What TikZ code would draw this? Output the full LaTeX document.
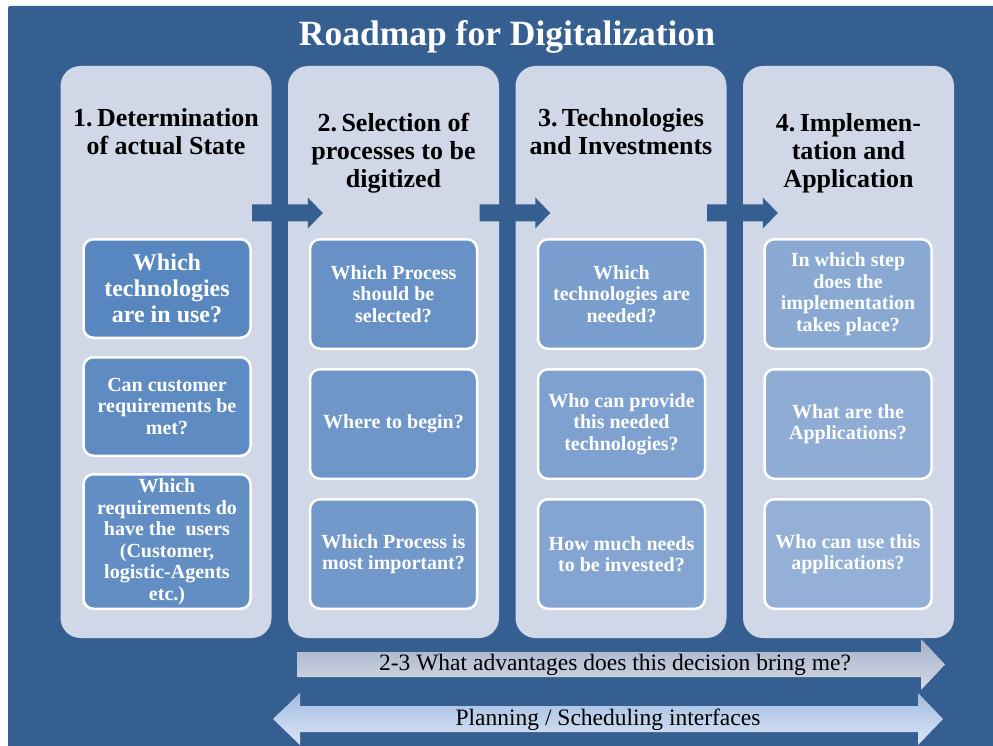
\documentclass[tikz,border=0pt]{standalone}
\usepackage{fontspec}
\setmainfont{Liberation Serif}
\usetikzlibrary{calc}

\definecolor{bgblue}{RGB}{54,95,145}
\definecolor{panelgray}{RGB}{208,216,232}
\definecolor{boxdark}{RGB}{88,135,192}
\definecolor{boxlight}{RGB}{148,176,215}
\definecolor{barAtop}{RGB}{166,178,202}
\definecolor{barAbot}{RGB}{212,218,230}
\definecolor{barBtop}{RGB}{162,187,226}
\definecolor{barBbot}{RGB}{220,230,245}

\begin{document}
\begin{tikzpicture}[x=1pt,y=-1pt,
  column/.style={rectangle, rounded corners=20pt, fill=panelgray,
    minimum width=211pt, minimum height=572pt, inner sep=0pt},
  colhead/.style={font=\fontsize{26}{28}\selectfont\bfseries,
    align=center, text=black},
  qbox/.style={rectangle, rounded corners=10pt, draw=white, line width=2.5pt,
    fill=boxlight!#1!boxdark, text=white,
    font=\fontsize{20}{21.5}\selectfont\bfseries, align=center,
    minimum width=167pt, inner sep=0pt},
  tall/.style={minimum height=109.5pt},
  bartext/.style={font=\fontsize{23.5}{26}\selectfont, text=black}]

\useasboundingbox (0,0) rectangle (993,746);

% backdrop
\fill[bgblue, rounded corners=2pt] (8,6) rectangle (1010,760);

% title
\node[font=\fontsize{35.5}{40}\selectfont\bfseries, text=white] (title)
  at (507,37) {Roadmap for Digitalization};

% four columns
\node[column] (p1) at (166,352) {};
\node[column] (p2) at (393.5,352) {};
\node[column] (p3) at (621,352) {};
\node[column] (p4) at (848.5,352) {};

% arrows linking the columns
\foreach \ua/\ub in {p1/p2,p2/p3,p3/p4}{
  \fill[bgblue] ($(\ua.east)+(-19.5,-147.5)$) -- ($(\ub.west)+(20,-147.5)$)
    -- ($(\ub.west)+(20,-154.5)$) -- ($(\ub.west)+(35,-139)$)
    -- ($(\ub.west)+(20,-123.5)$) -- ($(\ub.west)+(20,-130.5)$)
    -- ($(\ua.east)+(-19.5,-130.5)$) -- cycle;
}

% column headings
\node[colhead] (h1) at (166,132) {1.\,Determination\\of actual State};
\node[colhead] (h2) at (393.5,153) {2.\,Selection of\\processes to be\\digitized};
\node[colhead] (h3) at (621,132) {3.\,Technologies\\and Investments};
\node[colhead] (h4) at (848.5,153) {4.\,Implemen-\\tation and\\Application};

% questions, column 1
\node[qbox=0, minimum height=98.5pt,
  font=\fontsize{24}{26}\selectfont\bfseries] (q11) at (167,288.5)
  {Which\\technologies\\are in use?};
\node[qbox=9, minimum height=98.5pt] (q12) at (167,406.5)
  {Can customer\\requirements be\\met?};
\node[qbox=18, minimum height=134.5pt] (q13) at (167,541.5)
  {Which\\requirements do\\have the~ users\\(Customer,\\logistic-Agents\\etc.)};

% questions, column 2
\node[qbox=27, tall] (q21) at (393.5,294) {Which Process\\should be\\selected?};
\node[qbox=36, tall] (q22) at (393.5,424) {Where to begin?};
\node[qbox=45, tall] (q23) at (393.5,554) {Which Process is\\most important?};

% questions, column 3
\node[qbox=55, tall] (q31) at (621.5,294) {Which\\technologies are\\needed?};
\node[qbox=64, tall] (q32) at (621.5,424) {Who can provide\\this needed\\technologies?};
\node[qbox=73, tall] (q33) at (621.5,554) {How much needs\\to be invested?};

% questions, column 4
\node[qbox=82, tall] (q41) at (848,294) {In which step\\does the\\implementation\\takes place?};
\node[qbox=91, tall] (q42) at (848,424) {What are the\\Applications?};
\node[qbox=100, tall] (q43) at (848,554) {Who can use this\\applications?};

% bottom bars
\shade[top color=barAtop, bottom color=barAbot]
  (297,652) -- (921,652) -- (921,639) -- (945,664.5) -- (921,690)
  -- (921,677) -- (297,677) -- cycle;
\node[bartext] (adv) at (615,665) {2-3 What advantages does this decision bring me?};

\shade[top color=barBtop, bottom color=barBbot]
  (273,719) -- (300,693) -- (300,706) -- (918,706) -- (918,693)
  -- (943,719) -- (918,745) -- (918,732) -- (300,732) -- (300,745) -- cycle;
\node[bartext] (plan) at (608,720) {Planning / Scheduling interfaces};

\end{tikzpicture}
\end{document}
